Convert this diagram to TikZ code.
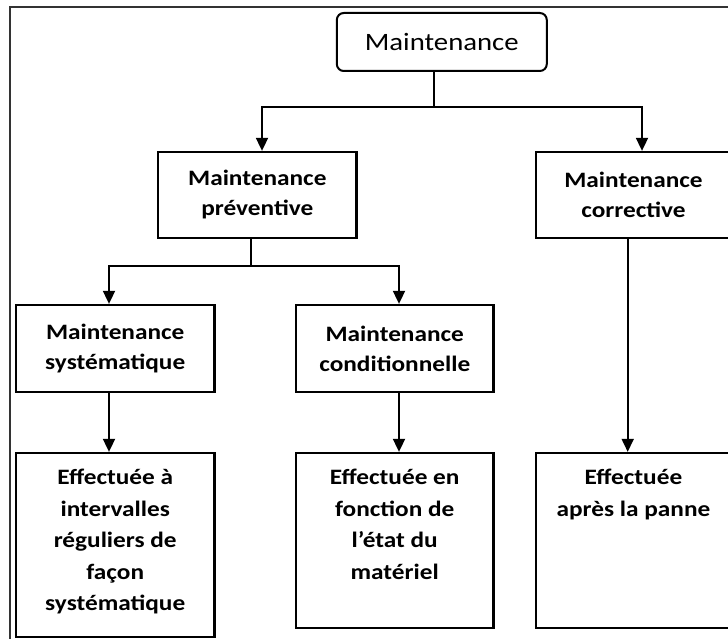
\documentclass[tikz,border=0pt]{standalone}
\usepackage{fontspec}
\setmainfont{Carlito}[FakeStretch=1.15]
\usetikzlibrary{arrows.meta}
\begin{document}
\begin{tikzpicture}[x=1pt,y=-1pt,
  box/.style={draw, line width=2.3pt, inner sep=0pt, align=center, font=\bfseries\fontsize{22}{30}\selectfont},
  arr/.style={line width=1.8pt, -{Triangle[width=12pt,length=13pt]}},
  conn/.style={line width=1.8pt},
  lbl/.style={inner sep=0pt, align=center, anchor=north, font=\bfseries\fontsize{22}{31.5}\selectfont},
]
\useasboundingbox (0,0) rectangle (728,639);
\clip (0,0) rectangle (728,639);
\draw[line width=1.4pt, black!80] (10,639) -- (10,7) -- (728,7);

\node[draw, rounded corners=7pt, line width=2pt, inner sep=0pt, minimum width=210pt, minimum height=58pt, font=\fontsize{25}{30}\selectfont] (m) at (441.8,42) {Maintenance};

\node[box, minimum width=198.6pt, minimum height=86pt] (prev) at (257.3,195) {Maintenance\\préventive};
\node[box, minimum width=195pt, minimum height=86pt] (corr) at (633.5,195) {Maintenance\\corrective};
\node[box, minimum width=198.5pt, minimum height=87pt] (sys) at (115.25,348.5) {Maintenance\\systématique};
\node[box, minimum width=197.5pt, minimum height=87pt] (cond) at (394.75,348.5) {Maintenance\\conditionnelle};

\node[box, minimum width=198.5pt, minimum height=184pt] (bsys) at (115.25,545) {};
\node[box, minimum width=197.5pt, minimum height=175pt] (bcond) at (394.75,540.5) {};
\node[box, minimum width=195pt, minimum height=175pt] (bcorr) at (633.5,540.5) {};

\node[lbl] (tsys) at ([yshift=-17pt]bsys.north) {Effectuée à\\intervalles\\réguliers de\\façon\\systématique};
\node[lbl] (tcond) at ([yshift=-17pt]bcond.north) {Effectuée en\\fonction de\\l’état du\\matériel};
\node[lbl] (tcorr) at ([yshift=-17pt]bcorr.north) {Effectuée\\après la panne};

\coordinate (j1) at (434,107);
\coordinate (j2) at (250.7,266);
\draw[conn] (m.south -| j1) -- (j1);
\draw[arr] (j1) -| ([xshift=4.7pt]prev.north);
\draw[arr] (j1) -| ([xshift=8.5pt]corr.north);
\draw[conn] (prev.south -| j2) -- (j2);
\draw[arr] (j2) -| ([xshift=-6.25pt]sys.north);
\draw[arr] (j2) -| ([xshift=4.25pt]cond.north);
\draw[arr] ([xshift=-6.25pt]sys.south) -- ([xshift=-6.25pt]bsys.north);
\draw[arr] ([xshift=4.25pt]cond.south) -- ([xshift=4.25pt]bcond.north);
\draw[arr] ([xshift=-5.8pt]corr.south) -- ([xshift=-5.8pt]bcorr.north);
\end{tikzpicture}
\end{document}
